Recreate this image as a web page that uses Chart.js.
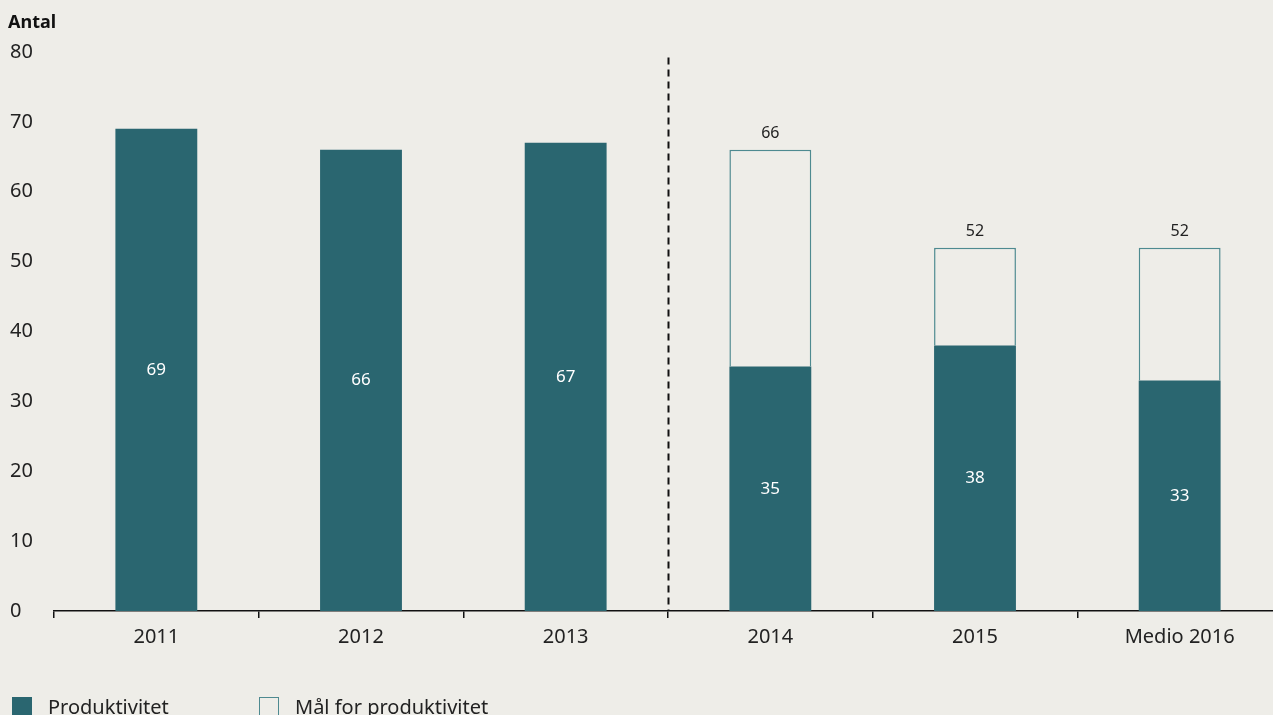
<!DOCTYPE html>
<html>
<head>
<meta charset="utf-8">
<script src="https://cdn.jsdelivr.net/npm/chart.js@4"></script>
<style>
  html, body { margin: 0; padding: 0; background: #eeede8; overflow: hidden; }
  #wrap { position: relative; width: 1273px; height: 715px; overflow: hidden; font-family: "Noto Sans", sans-serif; }
  #title { position: absolute; left: 8px; top: 9px; font-weight: bold; font-size: 18px; color: #111; }
  .leg { position: absolute; top: 695px; font-size: 20px; color: #222; line-height: 24px; white-space: nowrap; }
  .leg span { display: inline-block; width: 20px; height: 20px; vertical-align: -3px; margin-right: 16px; box-sizing: border-box; }
</style>
</head>
<body>
<div id="wrap">
  <!-- plot runs a little past the right edge, like the original -->
  <canvas id="chart" width="1282" height="715"></canvas>
  <div id="title">Antal</div>
  <div class="leg" style="left:12px"><span style="background:#2a6670"></span>Produktivitet</div>
  <div class="leg" style="left:259px"><span style="border:1.5px solid #4e8a90"></span>Mål for produktivitet</div>
</div>
<script>
const years = ['2011', '2012', '2013', '2014', '2015', 'Medio 2016'];
const actual = [69, 66, 67, 35, 38, 33];
const target = [null, null, null, 66, 52, 52];
const yTicks = [0, 10, 20, 30, 40, 50, 60, 70, 80];

const teal = '#2a6670';
const bg = '#eeede8';

// remaining part of the target above the actual bar
const gap = target.map((t, i) => t == null ? null : t - actual[i]);

const labelsPlugin = {
  id: 'labels',
  afterDatasetsDraw(chart) {
    const ctx = chart.ctx;
    const x = chart.scales.x, y = chart.scales.y;
    ctx.save();
    ctx.textAlign = 'center';
    ctx.textBaseline = 'middle';
    actual.forEach((v, i) => {
      ctx.font = '17px "Noto Sans", sans-serif';
      ctx.fillStyle = '#ffffff';
      ctx.fillText(v, x.getPixelForValue(i), y.getPixelForValue(v / 2));
      if (target[i] != null) {
        ctx.fillStyle = '#222';
        ctx.font = '16px "Noto Sans", sans-serif';
        ctx.fillText(target[i], x.getPixelForValue(i), y.getPixelForValue(target[i]) - 16);
      }
    });
    // dashed divider between 2013 and 2014
    const dx = Math.round((x.getPixelForValue(2) + x.getPixelForValue(3)) / 2) + 0.5;
    ctx.strokeStyle = '#111';
    ctx.lineWidth = 2;
    ctx.setLineDash([7, 5]);
    ctx.beginPath();
    ctx.moveTo(dx, y.getPixelForValue(79.2));
    ctx.lineTo(dx, y.getPixelForValue(0));
    ctx.stroke();
    ctx.restore();
  }
};

new Chart(document.getElementById('chart'), {
  type: 'bar',
  data: {
    labels: years,
    datasets: [
      {
        label: 'Produktivitet',
        data: actual,
        backgroundColor: teal,
        borderWidth: 0,
        barPercentage: 0.4,
        categoryPercentage: 1
      },
      {
        label: 'Mål for produktivitet',
        data: gap,
        backgroundColor: bg,
        borderColor: '#4e8a90',
        borderWidth: 1.5,
        barPercentage: 0.4,
        categoryPercentage: 1
      }
    ]
  },
  options: {
    responsive: false,
    animation: false,
    layout: { padding: { top: 52, left: 10, right: 0, bottom: 0 } },
    plugins: { legend: { display: false }, tooltip: { enabled: false } },
    scales: {
      x: {
        stacked: true,
        border: { display: true, color: '#111', width: 1.5 },
        grid: { display: true, offset: true, drawOnChartArea: false, drawTicks: true, tickLength: 7, color: '#111', lineWidth: 1.5 },
        ticks: { color: '#222', font: { family: 'Noto Sans', size: 20 }, padding: 7 },
        afterFit(scale) { scale.height = 104; }
      },
      y: {
        stacked: true,
        min: 0,
        max: 80,
        afterBuildTicks(scale) { scale.ticks = yTicks.map(v => ({ value: v })); },
        border: { display: false },
        grid: { display: false },
        ticks: { color: '#222', font: { family: 'Noto Sans', size: 20 }, crossAlign: 'far', padding: 0 },
        afterFit(scale) { scale.width = 44; }
      }
    }
  },
  plugins: [labelsPlugin]
});
</script>
</body>
</html>
